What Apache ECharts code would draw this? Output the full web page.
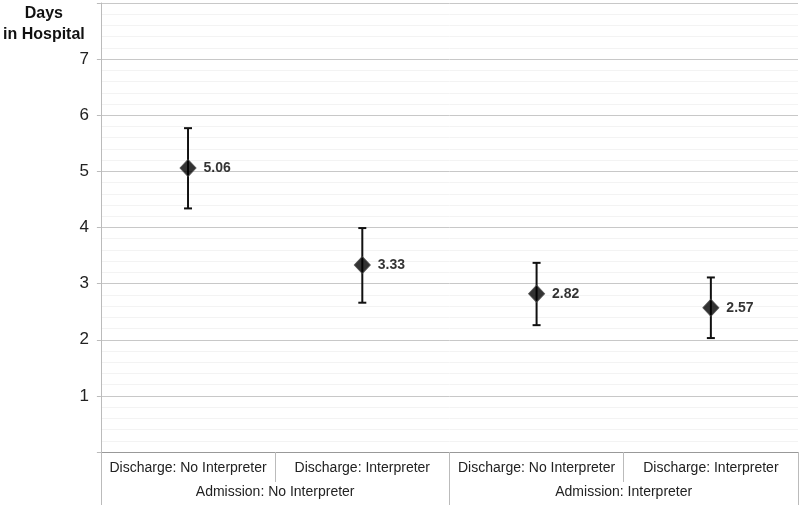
<!DOCTYPE html>
<html lang="en">
<head>
    <meta charset="UTF-8">
    <script src="https://cdn.jsdelivr.net/npm/echarts@6/dist/echarts.min.js"></script>
    <title>Days in Hospital</title>
    <style>body{margin:0;background:#fff;}</style>
</head>
<body>
<div id="main" style="width: 799px;height:505px;"></div>
<script type="text/javascript">
    // chart data
    var dischargeLabels = ['Discharge: No Interpreter', 'Discharge: Interpreter', 'Discharge: No Interpreter', 'Discharge: Interpreter'];
    var admissionLabels = ['Admission: No Interpreter', 'Admission: Interpreter'];
    var means = [5.06, 3.33, 2.82, 2.57];
    var lower = [4.34, 2.66, 2.26, 2.03];
    var upper = [5.77, 3.99, 3.37, 3.11];
    var yTicks = [1, 2, 3, 4, 5, 6, 7];

    var myChart = echarts.init(document.getElementById('main'));
    var font = 'Liberation Sans, Arial, sans-serif';

    var errData = [];
    for (var i = 0; i < means.length; i++) {
        errData.push([i, lower[i], upper[i]]);
    }

    option = {
        animation: false,
        backgroundColor: '#fff',
        grid: {left: 100, right: 1, top: 3, bottom: 53},
        xAxis: [
            {
                type: 'category',
                data: dischargeLabels,
                position: 'bottom',
                boundaryGap: true,
                axisLine: {lineStyle: {color: '#999', width: 1}},
                axisTick: {show: true, interval: 0, length: 30, lineStyle: {color: '#bbb'}},
                axisLabel: {interval: 0, color: '#222', fontFamily: font, fontSize: 14, margin: 9},
                splitLine: {show: false}
            },
            {
                type: 'category',
                data: admissionLabels,
                position: 'bottom',
                offset: 30,
                boundaryGap: true,
                axisLine: {show: false},
                axisTick: {show: true, interval: 0, length: 24, lineStyle: {color: '#bbb'}},
                axisLabel: {interval: 0, color: '#222', fontFamily: font, fontSize: 14, margin: 3},
                splitLine: {show: false}
            }
        ],
        yAxis: {
            type: 'value',
            min: 0,
            max: 8,
            interval: 1,
            name: 'Days\nin Hospital',
            nameLocation: 'end',
            nameGap: 0,
            nameTextStyle: {
                fontFamily: font, fontSize: 16, fontWeight: 'bold', color: '#111',
                align: 'center', verticalAlign: 'top', lineHeight: 21,
                padding: [0, 114, 0, 0]
            },
            axisLine: {show: true, lineStyle: {color: '#bbb'}},
            axisTick: {show: true, length: 4, lineStyle: {color: '#bbb'}},
            axisLabel: {
                color: '#222', fontFamily: font, fontSize: 17, margin: 12,
                formatter: function (v) { return yTicks.indexOf(v) >= 0 ? String(v) : ''; }
            },
            splitLine: {lineStyle: {color: '#c8c8c8'}},
            minorTick: {show: false, splitNumber: 5},
            minorSplitLine: {show: true, lineStyle: {color: '#f3f3f3'}}
        },
        series: [
            {
                type: 'custom',
                xAxisIndex: 0,
                data: errData,
                z: 2,
                renderItem: function (params, api) {
                    var x = api.value(0);
                    var lo = api.coord([x, api.value(1)]);
                    var hi = api.coord([x, api.value(2)]);
                    var cap = 4;
                    var style = {stroke: '#111', lineWidth: 2};
                    return {
                        type: 'group',
                        children: [
                            {type: 'line', shape: {x1: lo[0], y1: lo[1], x2: hi[0], y2: hi[1]}, style: style},
                            {type: 'line', shape: {x1: lo[0] - cap, y1: lo[1], x2: lo[0] + cap, y2: lo[1]}, style: style},
                            {type: 'line', shape: {x1: hi[0] - cap, y1: hi[1], x2: hi[0] + cap, y2: hi[1]}, style: style}
                        ]
                    };
                }
            },
            {
                type: 'scatter',
                xAxisIndex: 0,
                data: means,
                symbol: 'diamond',
                symbolSize: [16, 17],
                z: 3,
                itemStyle: {color: '#000', borderColor: '#444', borderWidth: 1},
                label: {
                    show: true,
                    position: 'right',
                    distance: 7,
                    color: '#000',
                    fontFamily: font,
                    fontSize: 14,
                    fontWeight: 'bold',
                    formatter: function (p) { return p.value.toFixed(2); }
                }
            }
        ]
    };
    myChart.setOption(option);
</script>
</body>
</html>
